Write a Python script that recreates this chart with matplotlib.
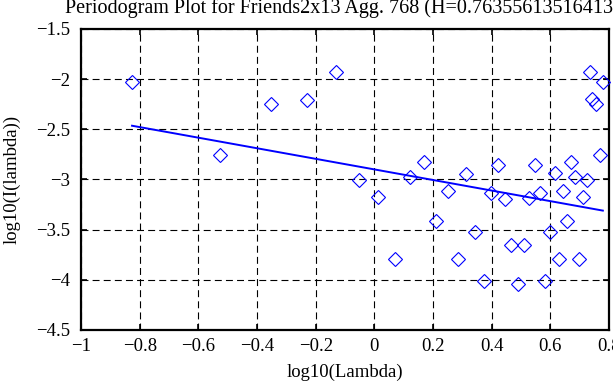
import matplotlib
matplotlib.use("Agg")
import matplotlib.pyplot as plt
import numpy as np

# Data
log_lambda = [-0.826, -0.526, -0.352, -0.228, -0.132, -0.053, 0.013, 0.072, 0.123, 0.169,
              0.211, 0.25, 0.284, 0.314, 0.343, 0.373, 0.398, 0.423, 0.445, 0.466,
              0.491, 0.509, 0.528, 0.547, 0.565, 0.581, 0.599, 0.615, 0.629, 0.642,
              0.657, 0.67, 0.684, 0.697, 0.71, 0.724, 0.736, 0.743, 0.757, 0.768, 0.779]
log_I = [-2.024, -2.757, -2.247, -2.207, -1.927, -3.007, -3.174, -3.797, -2.98, -2.827,
         -3.417, -3.114, -3.797, -2.944, -3.524, -4.014, -3.137, -2.854, -3.19, -3.657,
         -4.037, -3.657, -3.18, -2.854, -3.134, -4.014, -3.524, -2.94, -3.797, -3.114,
         -3.417, -2.827, -2.98, -3.797, -3.174, -3.007, -1.927, -2.197, -2.25, -2.757, -2.027]
fit_x = [-0.826, 0.779]
fit_y = [-2.464, -3.31]

xticks = [-1, -0.8, -0.6, -0.4, -0.2, 0, 0.2, 0.4, 0.6, 0.8]
yticks = [-4.5, -4, -3.5, -3, -2.5, -2, -1.5]
title = "Periodogram Plot for Friends2x13 Agg. 768 (H=0.763556135164137)"

plt.rcParams['font.family'] = ['Liberation Serif', 'DejaVu Serif']
plt.rcParams['lines.scale_dashes'] = False
fs = 13.5

fig = plt.figure(figsize=(6.13, 3.85), dpi=100)
ax = fig.add_axes([81/613, 55/385, 528/613, 301/385])

ax.plot(log_lambda, log_I, linestyle='none', marker='D', markersize=7.2,
        markerfacecolor='none', markeredgecolor='#0000ff', markeredgewidth=0.8,
        clip_on=False, zorder=3)
ax.plot(fit_x, fit_y, color='#0000ff', linewidth=1.4, zorder=3)

ax.set_xlim(-1, 0.8)
ax.set_ylim(-4.5, -1.5)
ax.set_xticks(xticks)
ax.set_yticks(yticks)
ax.set_xticklabels([('%g' % v).replace('-', '\u2212') for v in xticks])
ax.set_yticklabels([('%g' % v).replace('-', '\u2212') for v in yticks])
ax.grid(True, color='black', linestyle=(0, (5, 3)), linewidth=0.8)
ax.tick_params(direction='in', length=4, width=1.2, top=True, right=True,
               labelsize=fs)
ax.tick_params(axis='y', pad=7.5)
ax.tick_params(axis='x', pad=6)
for s in ax.spines.values():
    s.set_linewidth(1.6)

ax.set_xlabel('log10(Lambda)', fontsize=fs, labelpad=6)
ax.set_ylabel('log10(I(lambda))', fontsize=fs, labelpad=11.5)
fig.text(65/613, 1 - 13/385, title, ha='left', va='baseline', fontsize=14.5)

fig.savefig('out.png', dpi=100)
